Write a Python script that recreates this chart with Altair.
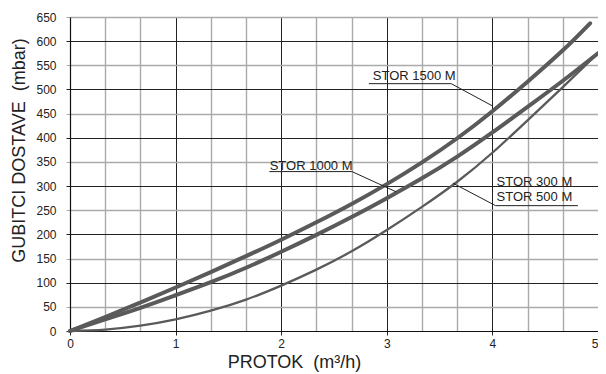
import altair as alt
import pandas as pd

# ---- data ----
x_pts = [0, 0.333, 0.667, 1, 1.333, 1.667, 2, 2.333, 2.667, 3, 3.333, 3.667, 4, 4.333, 4.667, 5]
x_1500 = [0, 0.333, 0.667, 1, 1.333, 1.667, 2, 2.333, 2.667, 3, 3.333, 3.667, 4, 4.333, 4.667, 4.925]
y_1500 = [0, 29, 59, 90, 122, 155, 189, 225, 263, 304, 349, 399, 455, 516, 581, 637]
y_1000 = [0, 24, 48, 74, 101, 131, 164, 199, 236, 275, 316, 361, 411, 464, 518, 575]
y_300_500 = [0, 3, 11, 24, 42, 65, 94, 127, 165, 209, 257, 309, 369, 436, 505, 575]

x_ticks = [0, 1/3, 2/3, 1, 4/3, 5/3, 2, 7/3, 8/3, 3, 10/3, 11/3, 4, 13/3, 14/3, 5]
y_ticks = [0, 50, 100, 150, 200, 250, 300, 350, 400, 450, 500, 550, 600, 650]

# annotation labels (data coordinates)
label_text = ["STOR 1500 M", "STOR 1000 M", "STOR 300 M", "STOR 500 M"]
label_x = [2.867, 1.891, 4.04, 4.04]
label_y = [520, 334, 300, 270]

# leader lines: underline start, underline end, pointer end
leader_group = ["a", "a", "a", "b", "b", "b", "c", "c", "c"]
leader_order = [0, 1, 2, 0, 1, 2, 0, 1, 2]
leader_x = [2.83, 3.61, 4.0, 1.888, 2.67, 3.09, 4.81, 4.03, 3.626]
leader_y = [512, 512, 466, 330, 330, 288, 259.5, 259.5, 306]

# ---- tables ----
def curve_df(xs, ys):
    return pd.DataFrame({"x": xs, "y": ys, "o": list(range(len(xs)))})

df_1500 = curve_df(x_1500, y_1500)
df_1000 = curve_df(x_pts, y_1000)
df_300 = curve_df(x_pts, y_300_500)
labels = pd.DataFrame({"x": label_x, "y": label_y, "t": label_text})
leaders = pd.DataFrame({"x": leader_x, "y": leader_y, "g": leader_group, "o": leader_order})

FONT = "Liberation Sans"
x_vals = [round(v, 6) for v in x_ticks]

x_scale = alt.Scale(domain=[0, 5], nice=False, zero=False)
y_scale = alt.Scale(domain=[0, 650], nice=False)

DARK = "#222222"
LIGHT = "#aaaaaa"
NB = "\u00a0"

x_axis = alt.Axis(
    values=x_vals,
    tickCount=40,
    labelExpr="datum.value % 1 === 0 ? format(datum.value, 'd') : ''",
    grid=True,
    gridColor={"condition": {"test": "datum.value % 1 === 0", "value": DARK}, "value": LIGHT},
    gridWidth={"condition": {"test": "datum.value % 1 === 0", "value": 1}, "value": 1.4},
    tickColor={"condition": {"test": "datum.value % 1 === 0", "value": DARK}, "value": "transparent"},
    tickSize=4,
    labelPadding=3,
    labelFlush=False,
    labelOverlap=False,
    labelAlign={"condition": {"test": "datum.value === 5", "value": "right"}, "value": "center"},
    labelFont=FONT, labelFontSize=12, labelColor=DARK,
    domainColor="#111111", domainWidth=1.2,
    title="PROTOK" + NB + " (m³/h)",
    titleFont=FONT, titleFontSize=18, titleFontWeight="normal", titleColor=DARK,
    titleX=224, titleY=31, titleBaseline="middle", titleAlign="center",
)
y_axis = alt.Axis(
    values=y_ticks,
    tickCount=40,
    labelExpr="format(datum.value, 'd')",
    grid=True,
    gridColor={"condition": {"test": "datum.value % 100 === 0", "value": DARK}, "value": LIGHT},
    gridWidth={"condition": {"test": "datum.value % 100 === 0", "value": 1}, "value": 1.4},
    tickColor={"condition": {"test": "datum.value % 100 === 0", "value": DARK}, "value": LIGHT},
    tickSize=4,
    labelPadding=10,
    labelOverlap=False,
    labelFont=FONT, labelFontSize=12, labelColor=DARK,
    domainColor="#111111", domainWidth=1.2,
    title="GUBITCI DOSTAVE" + NB + " (mbar)",
    titleFont=FONT, titleFontSize=18, titleFontWeight="normal", titleColor=DARK,
    titleX=-51, titleY=133, titleBaseline="middle", titleAlign="center",
)

X = alt.X("x:Q", scale=x_scale, axis=x_axis)
Y = alt.Y("y:Q", scale=y_scale, axis=y_axis)

def curve(df, width):
    return alt.Chart(df).mark_line(
        interpolate="natural", strokeCap="round", color="#5a5a5a", strokeWidth=width
    ).encode(x=X, y=Y, order="o:Q")

leader = alt.Chart(leaders).mark_line(color=DARK, strokeWidth=1).encode(
    x=X, y=Y, detail="g:N", order="o:Q",
)

texts = alt.Chart(labels).mark_text(
    align="left", baseline="alphabetic", font=FONT, fontSize=13, color=DARK
).encode(x=X, y=Y, text="t:N")

chart = alt.layer(
    curve(df_300, 2.3), curve(df_1000, 4), curve(df_1500, 4), leader, texts
).properties(
    width=528, height=314,
    autosize=alt.AutoSizeParams(type="none"),
    padding={"left": 62, "top": 9, "right": 0, "bottom": 45},
    background="white",
).configure_view(strokeWidth=0)

chart.save("out.html", embed_options={"renderer": "svg", "actions": False})
